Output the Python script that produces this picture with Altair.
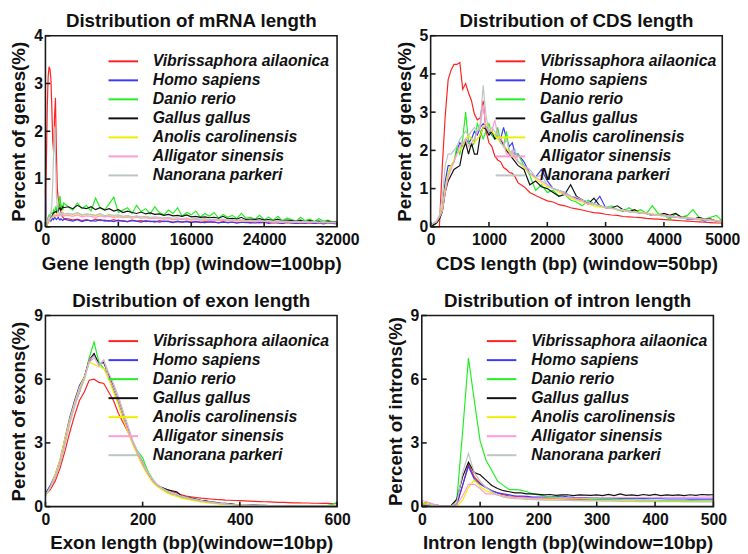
import altair as alt
import pandas as pd

FONT = "Liberation Sans"
SPECIES = ["Vibrissaphora ailaonica", "Homo sapiens", "Danio rerio", "Gallus gallus",
           "Anolis carolinensis", "Alligator sinensis", "Nanorana parkeri"]
COLORS = ["#ff2020", "#3a3aff", "#22ee22", "#111111", "#eeee00", "#ff9ad8", "#bcc4c4"]

# ---------------- mRNA length (window = 100 bp) ----------------
MRNA_X = list(range(0, 2001, 100)) + list(range(2500, 32001, 500))
mrna_red = [0.15, 1.3, 2.5, 3.15, 3.35, 3.3, 3.1, 2.5, 1.8, 1.55, 2.3, 2.7, 1.6, 0.8, 0.6, 0.5, 0.4, 0.3, 0.25, 0.2, 0.18,
            0.17, 0.14, 0.16, 0.13, 0.15, 0.12, 0.16, 0.13, 0.14, 0.12,
            0.15, 0.12, 0.13, 0.11, 0.14, 0.12, 0.13, 0.11, 0.12, 0.1,
            0.13, 0.11, 0.12, 0.1, 0.11, 0.1, 0.12, 0.1, 0.11, 0.09,
            0.11, 0.1, 0.1, 0.09, 0.11, 0.09, 0.1, 0.08, 0.1, 0.09,
            0.09, 0.08, 0.1, 0.08, 0.09, 0.08, 0.09, 0.07, 0.09, 0.08,
            0.08, 0.07, 0.09, 0.07, 0.08, 0.07, 0.08, 0.07, 0.08, 0.07]
mrna_blue = [0.75, 0.1, 0.05, 0.1, 0.12, 0.15, 0.12, 0.15, 0.18, 0.15, 0.2, 0.18, 0.15, 0.17, 0.2, 0.16, 0.14, 0.17, 0.15, 0.13, 0.16,
             0.14, 0.12, 0.15, 0.11, 0.14, 0.13, 0.12, 0.15, 0.12, 0.13,
             0.11, 0.14, 0.12, 0.11, 0.13, 0.12, 0.1, 0.13, 0.11, 0.12,
             0.1, 0.12, 0.11, 0.09, 0.12, 0.1, 0.11, 0.09, 0.11, 0.1,
             0.09, 0.11, 0.1, 0.08, 0.1, 0.09, 0.1, 0.08, 0.09, 0.1,
             0.08, 0.09, 0.08, 0.1, 0.07, 0.09, 0.08, 0.07, 0.09, 0.08,
             0.07, 0.08, 0.07, 0.09, 0.07, 0.08, 0.06, 0.08, 0.07, 0.06]
mrna_green = [0.05, 0.1, 0.15, 0.2, 0.25, 0.22, 0.28, 0.3, 0.25, 0.35, 0.3, 0.4, 0.35, 0.45, 0.3, 0.55, 0.65, 0.4, 0.45, 0.35, 0.5,
              0.42, 0.35, 0.5, 0.38, 0.45, 0.33, 0.6, 0.4, 0.36, 0.48,
              0.62, 0.3, 0.35, 0.4, 0.28, 0.45, 0.32, 0.38, 0.27, 0.42,
              0.3, 0.25, 0.35, 0.28, 0.4, 0.22, 0.3, 0.25, 0.33, 0.2,
              0.28, 0.22, 0.3, 0.18, 0.26, 0.2, 0.24, 0.17, 0.28, 0.18,
              0.2, 0.16, 0.24, 0.15, 0.2, 0.14, 0.22, 0.13, 0.18, 0.15,
              0.12, 0.2, 0.13, 0.16, 0.11, 0.17, 0.12, 0.14, 0.1, 0.12]
mrna_black = [0.0, 0.02, 0.05, 0.1, 0.12, 0.15, 0.2, 0.22, 0.25, 0.3, 0.3, 0.32, 0.3, 0.35, 0.33, 0.38, 0.4, 0.35, 0.38, 0.42, 0.4,
              0.42, 0.38, 0.45, 0.4, 0.38, 0.42, 0.36, 0.4, 0.35, 0.38,
              0.33, 0.36, 0.3, 0.33, 0.3, 0.28, 0.31, 0.27, 0.29, 0.26,
              0.27, 0.24, 0.26, 0.23, 0.24, 0.22, 0.25, 0.21, 0.22, 0.2,
              0.21, 0.19, 0.2, 0.18, 0.22, 0.17, 0.18, 0.16, 0.2, 0.15,
              0.16, 0.15, 0.17, 0.14, 0.15, 0.13, 0.16, 0.12, 0.14, 0.13,
              0.12, 0.14, 0.11, 0.13, 0.11, 0.12, 0.1, 0.12, 0.1, 0.11]
mrna_yellow = [0.0, 0.02, 0.05, 0.08, 0.1, 0.15, 0.18, 0.2, 0.22, 0.2, 0.25, 0.22, 0.25, 0.28, 0.24, 0.26, 0.28, 0.25, 0.27, 0.3, 0.26,
               0.27, 0.25, 0.28, 0.24, 0.26, 0.25, 0.23, 0.26, 0.22, 0.24,
               0.22, 0.23, 0.21, 0.22, 0.2, 0.22, 0.19, 0.2, 0.19, 0.18,
               0.19, 0.17, 0.18, 0.16, 0.17, 0.16, 0.17, 0.15, 0.16, 0.14,
               0.15, 0.14, 0.15, 0.13, 0.14, 0.13, 0.14, 0.12, 0.13, 0.12,
               0.12, 0.11, 0.12, 0.11, 0.12, 0.1, 0.11, 0.1, 0.11, 0.1,
               0.1, 0.09, 0.1, 0.09, 0.1, 0.09, 0.09, 0.08, 0.09, 0.08]
mrna_pink = [0.4, 0.1, 0.08, 0.1, 0.12, 0.15, 0.18, 0.2, 0.22, 0.25, 0.22, 0.24, 0.26, 0.22, 0.25, 0.23, 0.26, 0.24, 0.22, 0.25, 0.23,
             0.24, 0.22, 0.25, 0.21, 0.23, 0.22, 0.2, 0.23, 0.21, 0.22,
             0.2, 0.21, 0.19, 0.2, 0.18, 0.2, 0.18, 0.19, 0.17, 0.18,
             0.17, 0.16, 0.17, 0.15, 0.16, 0.15, 0.16, 0.14, 0.15, 0.14,
             0.14, 0.13, 0.14, 0.13, 0.14, 0.12, 0.13, 0.12, 0.13, 0.12,
             0.12, 0.11, 0.12, 0.11, 0.11, 0.1, 0.11, 0.1, 0.11, 0.1,
             0.1, 0.1, 0.1, 0.09, 0.1, 0.09, 0.1, 0.09, 0.09, 0.09]
mrna_gray = [0.0, 0.05, 0.1, 0.15, 0.2, 0.25, 0.3, 0.45, 0.9, 1.6, 2.1, 1.5, 0.7, 0.4, 0.3, 0.28, 0.3, 0.26, 0.28, 0.3, 0.27,
             0.28, 0.26, 0.3, 0.25, 0.27, 0.26, 0.24, 0.28, 0.23, 0.26,
             0.24, 0.25, 0.22, 0.24, 0.21, 0.23, 0.21, 0.22, 0.2, 0.21,
             0.2, 0.19, 0.2, 0.18, 0.19, 0.17, 0.19, 0.16, 0.18, 0.16,
             0.17, 0.15, 0.16, 0.15, 0.16, 0.14, 0.15, 0.14, 0.15, 0.13,
             0.14, 0.13, 0.14, 0.12, 0.13, 0.12, 0.13, 0.12, 0.12, 0.11,
             0.12, 0.11, 0.12, 0.1, 0.11, 0.1, 0.11, 0.1, 0.1, 0.1]

# ---------------- CDS length (window = 50 bp) ----------------
CDS_X = list(range(0, 1501, 50)) + list(range(1600, 5001, 100))
cds_red = [0, 0, 0, 0, 1.6, 2.9, 3.85, 4.1, 4.25, 4.25, 4.3, 3.6, 3.75, 3.5, 3.3, 2.95, 2.8, 2.85, 3.3, 2.5, 2.2, 2.1, 1.85, 1.75, 1.7, 1.55, 1.5, 1.42, 1.4, 1.3, 1.15,
           1.05, 0.9, 0.82, 0.75, 0.68, 0.65, 0.58, 0.55, 0.5, 0.47, 0.44, 0.4, 0.37, 0.36, 0.33, 0.31, 0.3, 0.27, 0.26, 0.25,
           0.24, 0.22, 0.21, 0.2, 0.19, 0.18, 0.17, 0.16, 0.15, 0.14, 0.13, 0.12, 0.11, 0.1, 0.1]
cds_blue = [0.1, 0.05, 0.1, 0.25, 0.5, 1.2, 1.6, 1.6, 1.7, 2.0, 2.2, 2.1, 2.3, 2.2, 2.3, 2.5, 2.4, 2.6, 2.7, 2.6, 2.5, 2.4, 2.3, 2.4, 2.3, 2.6, 2.3, 2.1, 2.2, 1.9, 1.9,
            1.7, 1.4, 1.3, 1.5, 1.2, 1.0, 0.95, 0.9, 0.8, 0.75, 0.7, 0.65, 0.6, 0.8, 0.5, 0.5, 0.45, 0.45, 0.4, 0.4,
            0.35, 0.35, 0.3, 0.3, 0.3, 0.25, 0.25, 0.25, 0.2, 0.2, 0.2, 0.15, 0.2, 0.15, 0.15]
cds_green = [0.0, 0.05, 0.1, 0.2, 0.4, 1.0, 1.4, 1.6, 1.7, 2.1, 1.9, 2.3, 3.0, 2.2, 2.1, 2.2, 2.7, 2.5, 2.3, 2.5, 2.7, 2.4, 2.3, 2.6, 2.2, 2.1, 2.5, 1.9, 2.0, 1.8, 1.9,
             1.6, 1.35, 0.95, 1.1, 0.9, 0.95, 0.8, 0.85, 0.7, 0.65, 0.55, 0.7, 0.6, 0.55, 0.5, 0.55, 0.45, 0.4, 0.5, 0.4,
             0.45, 0.35, 0.55, 0.35, 0.3, 0.2, 0.35, 0.25, 0.3, 0.45, 0.25, 0.2, 0.25, 0.3, 0.15]
cds_black = [0.0, 0.05, 0.1, 0.2, 0.4, 0.9, 1.2, 1.35, 1.5, 1.55, 1.6, 2.0, 2.2, 1.9, 2.2, 1.9, 1.9, 2.4, 2.6, 2.55, 2.4, 2.5, 2.3, 2.35, 2.3, 2.15, 2.0, 1.9, 1.8, 1.7, 1.6,
             1.5, 1.1, 1.2, 1.05, 1.0, 0.9, 0.8, 0.85, 1.1, 0.8, 0.7, 0.6, 0.75, 0.55, 0.5, 0.5, 0.55, 0.45, 0.4, 0.45,
             0.35, 0.35, 0.3, 0.3, 0.35, 0.3, 0.35, 0.25, 0.25, 0.2, 0.25, 0.2, 0.2, 0.15, 0.15]
cds_yellow = [0.05, 0.1, 0.15, 0.3, 0.5, 1.0, 1.4, 1.6, 1.75, 1.9, 2.0, 2.1, 2.3, 2.4, 2.3, 2.2, 2.3, 2.4, 2.6, 2.7, 2.6, 2.5, 2.4, 2.3, 2.2, 2.1, 2.05, 1.95, 1.85, 1.8, 1.7,
              1.55, 1.4, 1.25, 1.15, 1.05, 1.0, 0.9, 0.85, 0.75, 0.7, 0.65, 0.6, 0.55, 0.52, 0.5, 0.48, 0.45, 0.43, 0.4, 0.4,
              0.38, 0.36, 0.34, 0.32, 0.3, 0.28, 0.26, 0.25, 0.24, 0.22, 0.2, 0.2, 0.18, 0.17, 0.15]
cds_pink = [0.05, 0.1, 0.12, 0.25, 0.4, 0.9, 1.3, 1.5, 1.7, 1.9, 2.1, 2.2, 2.3, 2.1, 2.2, 2.3, 2.5, 2.6, 3.2, 2.6, 2.5, 2.5, 2.8, 2.4, 2.3, 2.2, 1.9, 1.9, 2.0, 1.8, 1.7,
            1.6, 1.4, 1.3, 1.2, 1.1, 1.0, 0.95, 0.85, 0.8, 0.72, 0.68, 0.6, 0.6, 0.55, 0.5, 0.48, 0.46, 0.42, 0.42, 0.38,
            0.36, 0.35, 0.33, 0.3, 0.3, 0.28, 0.26, 0.24, 0.23, 0.22, 0.2, 0.19, 0.18, 0.16, 0.15]
cds_gray = [0.05, 0.1, 0.15, 0.3, 0.8, 1.6, 1.9, 1.9, 2.0, 2.1, 2.3, 2.4, 2.5, 2.4, 2.5, 2.6, 2.5, 2.7, 3.7, 2.9, 2.5, 2.6, 2.5, 2.4, 2.2, 2.1, 2.3, 2.0, 1.9, 2.0, 1.7,
            1.6, 1.5, 1.3, 1.35, 1.1, 1.0, 0.95, 0.9, 0.8, 0.78, 0.7, 0.65, 0.6, 0.55, 0.52, 0.5, 0.45, 0.45, 0.4, 0.38,
            0.36, 0.34, 0.3, 0.3, 0.28, 0.26, 0.25, 0.22, 0.22, 0.2, 0.18, 0.18, 0.16, 0.15, 0.14]

# ---------------- exon length (window = 10 bp) ----------------
EXON_X = list(range(0, 601, 10))
exon_red = [0.55, 0.8, 1.2, 1.8, 2.6, 3.5, 4.3, 5.0, 5.4, 5.95, 6.0, 5.85, 5.8, 5.4, 5.0, 4.4, 3.95, 3.5, 3.0, 2.55,
            2.1, 1.65, 1.3, 1.0, 0.85, 0.8, 0.72, 0.65, 0.55, 0.5, 0.46, 0.43, 0.4, 0.38, 0.36, 0.34, 0.33, 0.31, 0.3, 0.29,
            0.28, 0.27, 0.26, 0.25, 0.24, 0.23, 0.22, 0.21, 0.2, 0.2, 0.19, 0.18, 0.18, 0.17, 0.17, 0.16, 0.16, 0.15, 0.15, 0.14, 0.14]
exon_blue = [0.6, 1.0, 1.5, 2.2, 3.2, 4.2, 5.0, 5.7, 6.1, 6.8, 7.2, 6.7, 6.8, 6.2, 5.6, 5.0, 4.3, 3.6, 3.0, 2.5,
             2.0, 1.6, 1.25, 1.0, 0.85, 0.7, 0.62, 0.55, 0.45, 0.4, 0.35, 0.3, 0.26, 0.22, 0.19, 0.16, 0.14, 0.12, 0.1, 0.09,
             0.08, 0.07, 0.06, 0.06, 0.05, 0.05, 0.04, 0.04, 0.04, 0.03, 0.03, 0.03, 0.03, 0.02, 0.02, 0.02, 0.02, 0.02, 0.02, 0.02, 0.02]
exon_green = [0.5, 0.9, 1.4, 2.0, 3.0, 4.1, 4.8, 5.5, 6.0, 7.0, 7.75, 6.8, 6.5, 6.2, 5.5, 4.9, 4.2, 3.6, 3.0, 2.6,
              2.3, 1.7, 1.3, 1.0, 0.85, 0.7, 0.6, 0.55, 0.45, 0.4, 0.35, 0.3, 0.27, 0.24, 0.2, 0.18, 0.15, 0.13, 0.11, 0.1,
              0.09, 0.08, 0.07, 0.06, 0.06, 0.05, 0.05, 0.05, 0.04, 0.04, 0.04, 0.04, 0.03, 0.03, 0.03, 0.03, 0.04, 0.05, 0.06, 0.1, 0.2]
exon_black = [0.6, 0.95, 1.4, 2.1, 3.0, 4.0, 4.8, 5.4, 6.1, 6.9, 7.2, 6.7, 6.8, 6.2, 5.6, 5.0, 4.3, 3.6, 3.0, 2.5,
              2.0, 1.6, 1.25, 1.0, 0.9, 0.8, 0.75, 0.7, 0.5, 0.45, 0.4, 0.35, 0.3, 0.27, 0.23, 0.2, 0.17, 0.15, 0.13, 0.11,
              0.1, 0.09, 0.08, 0.07, 0.06, 0.06, 0.05, 0.05, 0.04, 0.04, 0.04, 0.03, 0.03, 0.03, 0.03, 0.03, 0.02, 0.02, 0.02, 0.02, 0.02]
exon_yellow = [0.5, 0.9, 1.5, 2.2, 3.2, 4.1, 4.9, 5.6, 6.1, 6.8, 6.7, 6.6, 6.5, 6.0, 5.4, 4.8, 4.1, 3.5, 2.9, 2.4,
               1.9, 1.5, 1.15, 0.95, 0.8, 0.65, 0.55, 0.48, 0.4, 0.35, 0.3, 0.26, 0.22, 0.19, 0.16, 0.14, 0.12, 0.1, 0.09, 0.08,
               0.07, 0.06, 0.05, 0.05, 0.04, 0.04, 0.04, 0.03, 0.03, 0.03, 0.03, 0.02, 0.02, 0.02, 0.02, 0.02, 0.02, 0.02, 0.02, 0.02, 0.02]
exon_pink = [0.55, 0.95, 1.4, 2.1, 3.0, 4.0, 4.8, 5.5, 6.0, 6.9, 7.1, 6.6, 6.9, 6.1, 5.6, 5.0, 4.3, 3.6, 3.0, 2.5,
             2.0, 1.6, 1.25, 1.0, 0.85, 0.72, 0.62, 0.55, 0.47, 0.42, 0.36, 0.31, 0.27, 0.23, 0.2, 0.17, 0.15, 0.13, 0.11, 0.1,
             0.09, 0.08, 0.07, 0.06, 0.06, 0.05, 0.05, 0.04, 0.04, 0.04, 0.03, 0.03, 0.03, 0.03, 0.03, 0.02, 0.02, 0.02, 0.02, 0.02, 0.02]
exon_gray = [0.5, 0.9, 1.35, 2.0, 2.9, 3.9, 4.7, 5.4, 6.0, 6.8, 7.0, 6.7, 6.9, 6.3, 5.8, 5.2, 4.5, 3.8, 3.1, 2.6,
             2.1, 1.65, 1.3, 1.05, 0.88, 0.75, 0.65, 0.57, 0.5, 0.44, 0.38, 0.33, 0.28, 0.24, 0.21, 0.18, 0.15, 0.13, 0.11, 0.1,
             0.09, 0.08, 0.07, 0.06, 0.06, 0.05, 0.05, 0.04, 0.04, 0.04, 0.03, 0.03, 0.03, 0.03, 0.03, 0.02, 0.02, 0.02, 0.02, 0.02, 0.02]

# ---------------- intron length (window = 10 bp) ----------------
INTRON_X = list(range(0, 501, 10))
intron_red = [0.05, 0.05, 0.03, 0.02, 0.02, 0.02, 0.1, 1.0, 2.0, 1.4, 1.1, 0.9, 0.75, 0.65, 0.55, 0.5, 0.48, 0.46, 0.44, 0.42,
              0.4, 0.39, 0.38, 0.37, 0.36, 0.35, 0.34, 0.33, 0.33, 0.32, 0.32, 0.31, 0.31, 0.3, 0.3, 0.3, 0.29, 0.29, 0.28, 0.28,
              0.28, 0.27, 0.27, 0.27, 0.26, 0.26, 0.26, 0.25, 0.25, 0.25, 0.25]
intron_blue = [0.1, 0.08, 0.05, 0.03, 0.03, 0.03, 0.1, 1.0, 1.9, 1.3, 1.05, 0.9, 0.75, 0.65, 0.6, 0.55, 0.5, 0.5, 0.48, 0.45,
               0.45, 0.45, 0.45, 0.47, 0.5, 0.46, 0.44, 0.43, 0.42, 0.42, 0.41, 0.4, 0.4, 0.4, 0.39, 0.39, 0.38, 0.38, 0.38, 0.37,
               0.37, 0.37, 0.36, 0.36, 0.36, 0.36, 0.35, 0.35, 0.35, 0.35, 0.35]
intron_green = [0.1, 0.1, 0.05, 0.02, 0.02, 0.02, 0.3, 3.5, 7.0, 5.0, 3.1, 2.2, 1.7, 1.2, 1.0, 0.8, 0.8, 0.78, 0.7, 0.6,
                0.55, 0.5, 0.45, 0.45, 0.42, 0.4, 0.38, 0.37, 0.36, 0.35, 0.34, 0.33, 0.33, 0.32, 0.32, 0.31, 0.31, 0.3, 0.3, 0.3,
                0.29, 0.29, 0.28, 0.28, 0.28, 0.27, 0.27, 0.27, 0.26, 0.26, 0.26]
intron_black = [0.2, 0.15, 0.1, 0.05, 0.05, 0.05, 0.35, 1.4, 2.1, 1.6, 1.5, 1.25, 1.0, 0.85, 0.75, 0.7, 0.65, 0.65, 0.6, 0.6,
                0.58, 0.55, 0.57, 0.53, 0.55, 0.56, 0.52, 0.55, 0.54, 0.53, 0.55, 0.52, 0.58, 0.52, 0.6, 0.53, 0.55, 0.52, 0.57, 0.53,
                0.58, 0.52, 0.55, 0.53, 0.55, 0.52, 0.56, 0.53, 0.57, 0.55, 0.56]
intron_yellow = [0.2, 0.15, 0.08, 0.03, 0.02, 0.02, 0.02, 0.3, 0.9, 1.25, 0.95, 0.75, 0.65, 0.55, 0.5, 0.45, 0.42, 0.4, 0.38, 0.36,
                 0.35, 0.34, 0.33, 0.32, 0.32, 0.31, 0.31, 0.3, 0.3, 0.3, 0.29, 0.29, 0.29, 0.28, 0.28, 0.28, 0.28, 0.27, 0.27, 0.27,
                 0.27, 0.26, 0.26, 0.26, 0.26, 0.26, 0.25, 0.25, 0.25, 0.25, 0.25]
intron_pink = [0.3, 0.22, 0.12, 0.05, 0.04, 0.04, 0.1, 0.5, 1.05, 1.05, 0.85, 0.6, 0.6, 0.55, 0.5, 0.46, 0.44, 0.42, 0.41, 0.4,
               0.4, 0.4, 0.4, 0.4, 0.4, 0.4, 0.4, 0.4, 0.4, 0.41, 0.41, 0.41, 0.41, 0.42, 0.42, 0.42, 0.42, 0.42, 0.43, 0.43,
               0.43, 0.43, 0.43, 0.44, 0.44, 0.44, 0.44, 0.44, 0.45, 0.45, 0.45]
intron_gray = [0.15, 0.1, 0.05, 0.03, 0.03, 0.03, 0.2, 1.6, 2.5, 1.6, 1.2, 0.9, 0.7, 0.55, 0.45, 0.4, 0.38, 0.36, 0.34, 0.33,
               0.32, 0.31, 0.3, 0.3, 0.29, 0.29, 0.28, 0.28, 0.27, 0.27, 0.27, 0.26, 0.26, 0.26, 0.25, 0.25, 0.25, 0.24, 0.24, 0.24,
               0.24, 0.23, 0.23, 0.23, 0.23, 0.22, 0.22, 0.22, 0.22, 0.22, 0.22]

W, H = 296, 194
TICK_PX = 5
LEG_TOP, LEG_STEP = 26, 19.3
INK = "#1a1a1a"
COLOR_SCALE = alt.Scale(domain=SPECIES + ["frame"], range=COLORS + [INK])


def long_df(xs, series):
    rows = []
    for k, (sp, ys) in enumerate(zip(SPECIES, series)):
        assert len(ys) == len(xs), (sp, len(ys), len(xs))
        for xv, yv in zip(xs, ys):
            rows.append({"x": xv, "y": yv, "species": sp, "k": k})
    return pd.DataFrame(rows)


def frame_df(xmax, ymax, xvals, yvals):
    """Plot border and inward ticks, built from the axis extents and tick values."""
    rows = []
    corners = [(0, 0), (xmax, 0), (xmax, ymax), (0, ymax), (0, 0)]
    for i, (cx, cy) in enumerate(corners):
        rows.append({"x": cx, "y": cy, "seg": "box", "i": i, "species": "frame"})
    dy = ymax * TICK_PX / H
    dx = xmax * TICK_PX / W
    for v in xvals:
        rows.append({"x": v, "y": 0, "seg": f"xt{v}", "i": 0, "species": "frame"})
        rows.append({"x": v, "y": dy, "seg": f"xt{v}", "i": 1, "species": "frame"})
    for v in yvals:
        rows.append({"x": 0, "y": v, "seg": f"yt{v}", "i": 0, "species": "frame"})
        rows.append({"x": dx, "y": v, "seg": f"yt{v}", "i": 1, "species": "frame"})
    return pd.DataFrame(rows)


LEG_DF = pd.DataFrame({"species": SPECIES, "k": list(range(len(SPECIES)))})


def panel(xs, series, title, xtitle, ytitle, xmax, xvals, ymax, yvals, lx):
    df = long_df(xs, series)
    xsc = alt.Scale(domain=[0, xmax], nice=False, zero=True)
    ysc = alt.Scale(domain=[0, ymax], nice=False, zero=True)
    lines = alt.Chart(df).mark_line(strokeWidth=1.2).encode(
        x=alt.X("x:Q", scale=xsc, axis=alt.Axis(values=xvals, format="d", title=xtitle)),
        y=alt.Y("y:Q", scale=ysc, axis=alt.Axis(values=yvals, title=ytitle)),
        color=alt.Color("species:N", scale=COLOR_SCALE, legend=None),
        detail="species:N",
    )
    border = alt.Chart(frame_df(xmax, ymax, xvals, yvals)).mark_line(strokeWidth=1.6).encode(
        x=alt.X("x:Q", scale=xsc),
        y=alt.Y("y:Q", scale=ysc, axis=None),
        color=alt.Color("species:N", scale=COLOR_SCALE, legend=None),
        detail="seg:N",
        order="i:Q",
    )
    lsc = alt.Scale(domain=[0, len(SPECIES) - 1], range=[LEG_TOP, LEG_TOP + LEG_STEP * (len(SPECIES) - 1)])
    leg_lines = alt.Chart(LEG_DF).mark_rule(strokeWidth=2).encode(
        y=alt.Y("k:Q", scale=lsc, axis=None), x=alt.value(lx), x2=alt.value(lx + 30),
        color=alt.Color("species:N", scale=COLOR_SCALE, legend=None))
    leg_text = alt.Chart(LEG_DF).mark_text(
        align="left", baseline="middle", font=FONT, fontSize=16, fontStyle="italic",
        fontWeight="bold", color="#111").encode(
        y=alt.Y("k:Q", scale=lsc, axis=None), x=alt.value(lx + 45), text="species:N")
    ttl = alt.Chart(pd.DataFrame({"t": [title]})).mark_text(
        align="center", baseline="alphabetic", font=FONT, fontSize=19, fontWeight="bold",
        color="#111").encode(x=alt.value(W / 2), y=alt.value(-9), text="t:N")
    return alt.layer(lines, border, leg_lines, leg_text, ttl).resolve_scale(
        y="independent").properties(width=W, height=H)


p1 = panel(MRNA_X, [mrna_red, mrna_blue, mrna_green, mrna_black, mrna_yellow, mrna_pink, mrna_gray],
           "Distribution of mRNA length", "Gene length (bp) (window=100bp)", "Percent of genes(%)",
           32000, [0, 8000, 16000, 24000, 32000], 4, [0, 1, 2, 3, 4], 64)
p2 = panel(CDS_X, [cds_red, cds_blue, cds_green, cds_black, cds_yellow, cds_pink, cds_gray],
           "Distribution of CDS length", "CDS length (bp) (window=50bp)", "Percent of genes(%)",
           5000, [0, 1000, 2000, 3000, 4000, 5000], 5, [0, 1, 2, 3, 4, 5], 66)
p3 = panel(EXON_X, [exon_red, exon_blue, exon_green, exon_black, exon_yellow, exon_pink, exon_gray],
           "Distribution of exon length", "Exon length (bp)(window=10bp)", "Percent of exons(%)",
           600, [0, 200, 400, 600], 9, [0, 3, 6, 9], 64)
p4 = panel(INTRON_X, [intron_red, intron_blue, intron_green, intron_black, intron_yellow, intron_pink, intron_gray],
           "Distribution of intron length", "Intron length (bp)(window=10bp)", "Percent of introns(%)",
           500, [0, 100, 200, 300, 400, 500], 9, [0, 3, 6, 9], 66)

row1 = alt.hconcat(p1, p2, spacing=36)
row2 = alt.hconcat(p3, p4, spacing=36)
chart = alt.vconcat(row1, row2, spacing=19).configure_view(
    strokeWidth=0
).configure_axis(
    grid=False, domain=False, ticks=False,
    labelFont=FONT, labelFontSize=16, labelFontWeight="bold", labelColor="#111", labelPadding=3,
    titleFont=FONT, titleFontSize=19, titleFontWeight="bold", titleColor="#111",
).configure_axisX(labelFlush=False, labelPadding=5, titlePadding=7).configure_axisY(titlePadding=5).properties(
    padding={"left": 2, "top": 0, "right": 0, "bottom": 0}, background="white")

chart.save("out.html", embed_options={"renderer": "svg", "actions": False})
